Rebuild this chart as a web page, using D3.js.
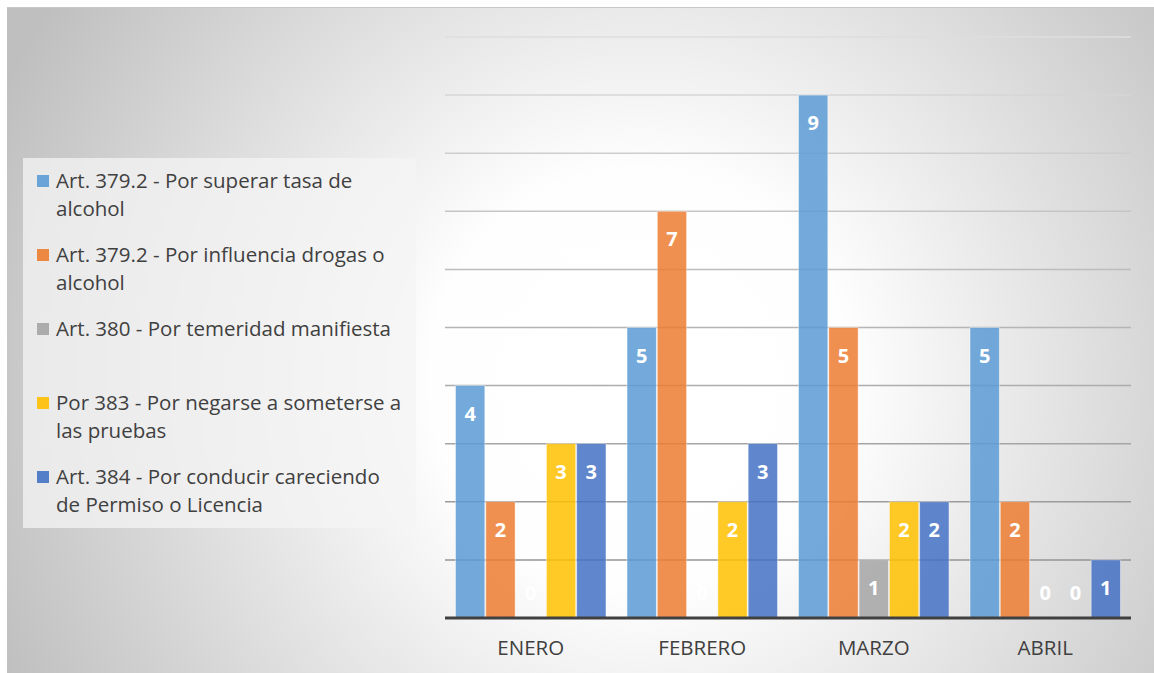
<!DOCTYPE html>
<html>
<head>
<meta charset="utf-8">
<script src="https://cdn.jsdelivr.net/npm/d3@7"></script>
<style>
  html, body { margin: 0; padding: 0; background: #fff; }
  svg { display: block; }
</style>
</head>
<body>
<svg width="1154" height="673"></svg>
<script>
// Data
var months = ["ENERO", "FEBRERO", "MARZO", "ABRIL"];
var seriesNames = [
  "Art. 379.2 - Por superar tasa de alcohol",
  "Art. 379.2 - Por influencia drogas o alcohol",
  "Art. 380 - Por temeridad manifiesta",
  "Por 383 - Por negarse a someterse a las pruebas",
  "Art. 384 - Por conducir careciendo de Permiso o Licencia"
];
// legend lines as wrapped in the original
var legendLines = [
  ["Art. 379.2 - Por superar tasa de", "alcohol"],
  ["Art. 379.2 - Por influencia drogas o", "alcohol"],
  ["Art. 380 - Por temeridad manifiesta", ""],
  ["Por 383 - Por negarse a someterse a", "las pruebas"],
  ["Art. 384 - Por conducir careciendo", "de Permiso o Licencia"]
];
var tasa     = [4, 5, 9, 5];
var drogas   = [2, 7, 5, 2];
var temerid  = [0, 0, 1, 0];
var negarse  = [3, 2, 2, 0];
var permiso  = [3, 3, 2, 1];
var colors = ["#5B9BD5", "#ED7D31", "#A5A5A5", "#FFC000", "#4472C4"];
var yTicks = [0, 1, 2, 3, 4, 5, 6, 7, 8, 9, 10];

var allSeries = [tasa, drogas, temerid, negarse, permiso];

var svg = d3.select("svg");
var W = 1154, H = 673;

// background: radial gradient, white in the middle, gray at edges
var defs = svg.append("defs");
var rg = defs.append("radialGradient")
  .attr("id", "bg")
  .attr("gradientUnits", "userSpaceOnUse")
  .attr("cx", 640).attr("cy", 380).attr("r", 700);
rg.append("stop").attr("offset", "0").attr("stop-color", "#ffffff");
rg.append("stop").attr("offset", "0.3").attr("stop-color", "#fefefe");
rg.append("stop").attr("offset", "1").attr("stop-color", "#bfbfbf");

svg.append("rect").attr("x", 0).attr("y", 0).attr("width", W).attr("height", H).attr("fill", "#fff");
svg.append("rect")
  .attr("x", 7).attr("y", 7).attr("width", W - 7).attr("height", H - 7)
  .attr("fill", "url(#bg)");
svg.append("line")
  .attr("x1", 7).attr("x2", W).attr("y1", 7.5).attr("y2", 7.5)
  .attr("stroke", "#c8c8c8").attr("stroke-width", 1);

// scales
var plot = { left: 445, right: 1131, top: 37, bottom: 618 };
var x0 = d3.scaleBand().domain(months)
  .range([plot.left, plot.right])
  .paddingInner(0.117).paddingOuter(0.0585);
var x1 = d3.scaleBand().domain(d3.range(seriesNames.length))
  .range([0, x0.bandwidth()]).padding(0);
var y = d3.scaleLinear().domain([0, 10]).range([plot.bottom, plot.top]);
var gridColor = d3.scaleLinear().domain([10, 0]).range(["#dedede", "#8c8c8c"]);

// gridlines
svg.append("g").selectAll("line")
  .data(yTicks.filter(function(d) { return d > 0; }))
  .enter().append("line")
    .attr("x1", plot.left).attr("x2", plot.right)
    .attr("y1", function(d) { return y(d); })
    .attr("y2", function(d) { return y(d); })
    .attr("stroke", function(d) { return gridColor(d); })
    .attr("stroke-width", 1.5);

// bars
var groups = svg.append("g").selectAll("g")
  .data(months)
  .enter().append("g")
    .attr("transform", function(d) { return "translate(" + x0(d) + ",0)"; });

groups.selectAll("rect")
  .data(function(m, i) {
    return allSeries.map(function(s, k) { return { k: k, v: s[i] }; });
  })
  .enter().append("rect")
    .attr("x", function(d) { return x1(d.k) + 0.5; })
    .attr("width", x1.bandwidth() - 1)
    .attr("y", function(d) { return y(d.v); })
    .attr("height", function(d) { return y(0) - y(d.v); })
    .attr("fill", function(d) { return colors[d.k]; })
    .attr("fill-opacity", 0.85)
    .attr("stroke", "#ffffff")
    .attr("stroke-opacity", 0.5)
    .attr("stroke-width", 0.8);

// data labels
groups.selectAll("text")
  .data(function(m, i) {
    return allSeries.map(function(s, k) { return { k: k, v: s[i] }; });
  })
  .enter().append("text")
    .attr("x", function(d) { return x1(d.k) + x1.bandwidth() / 2; })
    .attr("y", function(d) { return d.v > 0 ? y(d.v) + 28 : y(0) - 25; })
    .attr("dy", "0.35em")
    .attr("text-anchor", "middle")
    .attr("font-family", "'Open Sans', sans-serif")
    .attr("font-weight", "bold")
    .attr("font-size", 20)
    .attr("fill", "#ffffff")
    .text(function(d) { return d.v; });

// x axis
var xAxis = svg.append("g")
  .attr("transform", "translate(0," + plot.bottom + ")")
  .call(d3.axisBottom(x0).tickSize(0).tickPadding(22));
xAxis.select(".domain")
  .attr("stroke", "#404040").attr("stroke-width", 3)
  .attr("d", "M" + plot.left + ",0H" + plot.right);
xAxis.selectAll("text")
  .attr("font-family", "'Open Sans', sans-serif")
  .attr("font-size", 20.5)
  .attr("fill", "#404040");

// legend
var legend = svg.append("g");
legend.append("rect")
  .attr("x", 23).attr("y", 158).attr("width", 393).attr("height", 370)
  .attr("fill", "#f4f4f4").attr("fill-opacity", 0.75);

var items = legend.selectAll("g.item")
  .data(legendLines)
  .enter().append("g")
    .attr("class", "item")
    .attr("transform", function(d, i) { return "translate(0," + (181 + i * 74) + ")"; });
items.append("rect")
  .attr("x", 37).attr("y", -6).attr("width", 12).attr("height", 12)
  .attr("fill", function(d, i) { return colors[i]; })
  .attr("fill-opacity", 0.9);
items.selectAll("text")
  .data(function(d) { return d; })
  .enter().append("text")
    .attr("x", 56)
    .attr("y", function(d, j) { return j * 28; })
    .attr("dy", "0.35em")
    .attr("font-family", "'Open Sans', sans-serif")
    .attr("font-size", 20.5)
    .attr("fill", "#404040")
    .text(function(d) { return d; });
</script>
</body>
</html>
